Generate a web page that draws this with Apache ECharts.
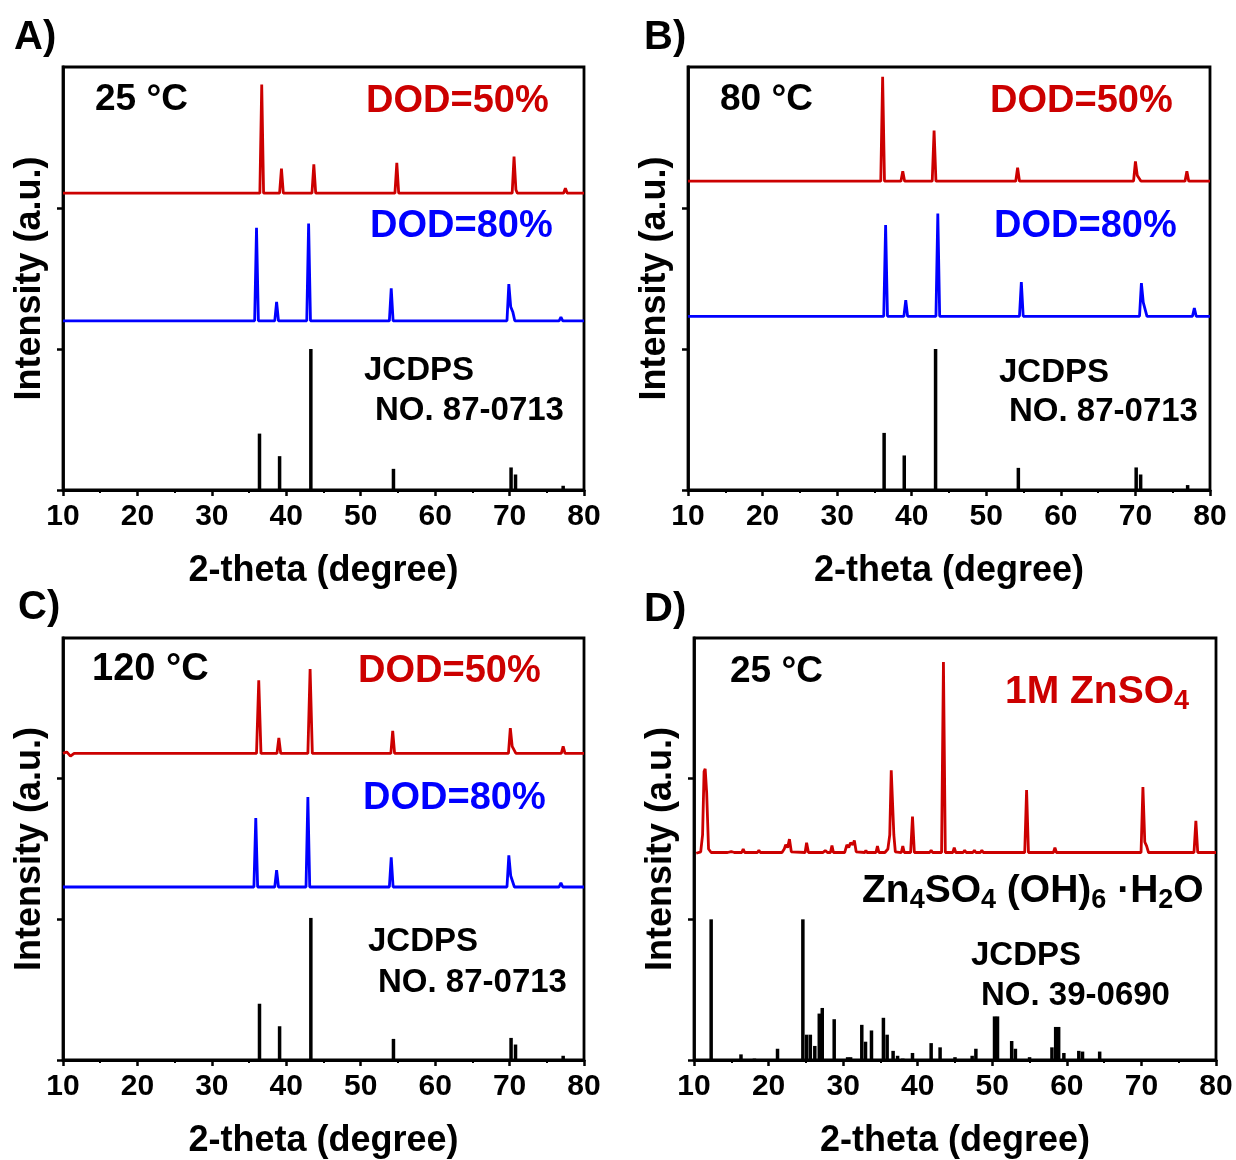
<!DOCTYPE html>
<html>
<head>
<meta charset="utf-8">
<script src="https://cdn.jsdelivr.net/npm/echarts@6/dist/echarts.min.js"></script>
<style>
html,body{margin:0;padding:0;background:#fff;}
#chart{width:1236px;height:1160px;}
</style>
</head>
<body>
<div id="chart"></div>
<script>
// ---------- data (2-theta, offset intensity) ----------
const xTickLabels = [10, 20, 30, 40, 50, 60, 70, 80];

// Panel A: 25 °C
const aRed = [[10,2.105],[16.3,2.105],[16.5,2.112],[16.7,2.105],[22.3,2.105],[22.5,2.112],[22.7,2.105],[30.3,2.105],[30.5,2.11],[30.7,2.105],
  [33.0,2.105],[33.2,2.115],[33.4,2.105],[33.8,2.105],[34,2.118],[34.2,2.105],
  [36.45,2.105],[36.7,2.875],[36.95,2.105],[39.1,2.105],[39.35,2.28],[39.6,2.105],[43.45,2.105],[43.7,2.31],[43.95,2.105],
  [54.6,2.105],[54.85,2.32],[55.1,2.105],[70.35,2.105],[70.6,2.365],[70.85,2.13],[71.05,2.105],[77.25,2.105],[77.5,2.14],[77.75,2.105],[80,2.105]];
const aBlue = [[10,1.2],[35.75,1.2],[36.0,1.86],[36.25,1.2],[38.45,1.2],[38.7,1.335],[38.95,1.2],[42.75,1.2],[43.0,1.89],[43.25,1.2],
  [53.85,1.2],[54.1,1.43],[54.35,1.2],[69.65,1.2],[69.9,1.46],[70.15,1.3],[70.45,1.26],[70.7,1.2],[76.65,1.2],[76.9,1.225],[77.15,1.2],[80,1.2]];
const aRef = [[36.4,0.40],[39.1,0.24],[43.3,1.0],[54.4,0.15],[70.2,0.16],[70.8,0.11],[77.2,0.03]];

// Panel B: 80 °C
const bRed = [[10,2.19],[35.85,2.19],[36.1,2.93],[36.35,2.19],[38.55,2.19],[38.8,2.26],[39.05,2.19],[42.75,2.19],[43.0,2.55],[43.25,2.19],
  [53.95,2.19],[54.2,2.285],[54.45,2.19],[69.75,2.19],[70.0,2.33],[70.25,2.23],[70.5,2.22],[70.75,2.19],[76.65,2.19],[76.9,2.26],[77.15,2.19],[80,2.19]];
const bBlue = [[10,1.232],[36.25,1.232],[36.5,1.88],[36.75,1.232],[38.95,1.232],[39.2,1.347],[39.45,1.232],[43.25,1.232],[43.5,1.96],[43.75,1.232],
  [54.45,1.232],[54.7,1.475],[54.95,1.232],[70.55,1.232],[70.8,1.467],[71.05,1.33],[71.3,1.32],[71.55,1.232],[77.65,1.232],[77.9,1.29],[78.15,1.232],[80,1.232]];
const bRef = [[36.3,0.405],[39.0,0.245],[43.2,1.0],[54.3,0.157],[70.1,0.16],[70.7,0.11],[77.0,0.035]];

// Panel C: 120 °C
const cRed = [[10,2.18],[10.5,2.19],[11,2.16],[11.5,2.18],[36.0,2.18],[36.3,2.70],[36.6,2.18],[38.75,2.18],[39.0,2.29],[39.25,2.18],
  [42.9,2.18],[43.2,2.78],[43.5,2.18],[54.05,2.18],[54.3,2.34],[54.55,2.18],[69.85,2.18],[70.1,2.36],[70.35,2.23],[70.6,2.22],[70.85,2.18],
  [76.95,2.18],[77.2,2.23],[77.45,2.18],[80,2.18]];
const cBlue = [[10,1.23],[35.65,1.23],[35.9,1.72],[36.15,1.23],[38.45,1.23],[38.7,1.35],[38.95,1.23],[42.65,1.23],[42.9,1.87],[43.15,1.23],
  [53.85,1.23],[54.1,1.44],[54.35,1.23],[69.65,1.23],[69.9,1.455],[70.15,1.31],[70.4,1.30],[70.65,1.23],[76.65,1.23],[76.9,1.26],[77.15,1.23],[80,1.23]];
const cRef = [[36.4,0.40],[39.1,0.24],[43.3,1.01],[54.4,0.15],[70.2,0.157],[70.8,0.11],[77.2,0.03]];

// Panel D: 25 °C, 1M ZnSO4
const dRed = [[10.3,1.47],[10.9,1.48],[11.15,1.6],[11.35,2.05],[11.5,2.07],[11.7,1.9],[11.95,1.5],[12.3,1.475],
  [14.5,1.475],[15.0,1.482],[15.4,1.475],[16.4,1.475],[16.6,1.5],[16.8,1.475],[18.5,1.475],[18.7,1.49],[18.9,1.475],
  [21.8,1.475],[22.1,1.5],[22.3,1.53],[22.55,1.51],[22.8,1.57],[23.05,1.48],[23.3,1.475],
  [24.9,1.475],[25.1,1.545],[25.35,1.475],[27.3,1.475],[27.6,1.49],[27.9,1.475],[28.3,1.475],[28.5,1.525],[28.7,1.475],
  [30.2,1.475],[30.5,1.53],[30.75,1.51],[31.0,1.545],[31.3,1.53],[31.5,1.56],[31.75,1.48],[32.0,1.475],
  [32.9,1.475],[33.05,1.49],[33.2,1.475],[34.4,1.475],[34.6,1.52],[34.8,1.475],[35.6,1.475],
  [36.0,1.5],[36.25,1.6],[36.45,2.06],[36.6,2.06],[36.8,1.6],[37.0,1.48],[37.8,1.475],[38.0,1.52],[38.2,1.475],
  [39.05,1.475],[39.3,1.73],[39.55,1.475],[41.6,1.475],[41.8,1.49],[42.0,1.475],[43.2,1.475],[43.45,2.83],[43.7,1.475],
  [44.7,1.475],[44.9,1.51],[45.1,1.475],[46.1,1.475],[46.3,1.49],[46.5,1.475],[47.4,1.475],[47.6,1.49],[47.8,1.475],[48.4,1.475],[48.6,1.49],[48.8,1.475],
  [54.35,1.475],[54.6,1.92],[54.85,1.475],[58.2,1.475],[58.4,1.51],[58.6,1.475],[61,1.475],[61.2,1.482],[61.4,1.475],
  [69.95,1.475],[70.2,1.94],[70.45,1.55],[70.7,1.52],[70.95,1.475],[77.05,1.475],[77.3,1.70],[77.55,1.475],[80,1.475]];
const dRef = [[12.3,1.0],[16.3,0.04],[18.1,0.01],[21.2,0.08],[24.6,1.0],[25.1,0.18],[25.6,0.18],[26.2,0.10],[26.8,0.33],[27.2,0.37],[28.8,0.29],
  [30.6,0.02],[31.0,0.02],[32.5,0.25],[33.0,0.13],[33.8,0.21],[35.4,0.30],[35.9,0.18],[36.7,0.065],[37.3,0.03],[38.0,0.01],[39.3,0.05],
  [41.8,0.12],[43.0,0.09],[45.0,0.02],[47.3,0.03],[47.8,0.08],[50.3,0.31],[50.7,0.31],[52.6,0.135],[53.1,0.08],[55.0,0.02],
  [58.0,0.09],[58.5,0.235],[58.9,0.235],[59.6,0.05],[61.6,0.065],[62.1,0.06],[64.4,0.06]];

// ---------- chart ----------
const FONT = 'Liberation Sans, Arial, Helvetica, sans-serif';
const RED = '#cc0000', BLUE = '#0000ff';

const grids = [
  {left: 63,  top: 67,  width: 521, height: 423},
  {left: 688, top: 67,  width: 522, height: 423},
  {left: 63,  top: 638, width: 521, height: 423},
  {left: 694, top: 638, width: 522, height: 423}
];

const option = {
  animation: false,
  backgroundColor: '#fff',
  grid: grids.map(g => Object.assign({show: true, borderColor: '#000', borderWidth: 2.8, backgroundColor: 'transparent'}, g)),
  xAxis: grids.map((g, i) => ({
    type: 'value', gridIndex: i, min: 10, max: 80, interval: 10,
    name: '2-theta (degree)', nameLocation: 'middle', nameGap: 63,
    nameTextStyle: {fontFamily: FONT, fontWeight: 'bold', fontSize: 36, color: '#000'},
    axisLine: {show: true, onZero: false, lineStyle: {color: '#000', width: 2.8}},
    axisTick: {show: true, inside: false, length: 6, lineStyle: {color: '#000', width: 2.5}},
    minorTick: {show: true, splitNumber: 2, length: 3, lineStyle: {color: '#000', width: 2}},
    axisLabel: {show: true, margin: 12, fontFamily: FONT, fontWeight: 'bold', fontSize: 30, color: '#000',
      formatter: v => xTickLabels.includes(v) ? String(v) : ''},
    splitLine: {show: false}
  })),
  yAxis: grids.map((g, i) => ({
    type: 'value', gridIndex: i, min: 0, max: 3, interval: 1,
    name: 'Intensity (a.u.)', nameLocation: 'middle', nameGap: 15, nameRotate: 90,
    nameTextStyle: {fontFamily: FONT, fontWeight: 'bold', fontSize: 36, color: '#000'},
    axisLine: {show: true, lineStyle: {color: '#000', width: 2.8}},
    axisTick: {show: true, inside: false, length: 6, customValues: [0, 1, 2], lineStyle: {color: '#000', width: 2.5}},
    axisLabel: {show: false},
    splitLine: {show: false}
  })),
  series: [],
  graphic: []
};

function lineSeries(idx, data, color) {
  return {type: 'line', xAxisIndex: idx, yAxisIndex: idx, data: data, showSymbol: false, symbol: 'none',
    lineStyle: {color: color, width: 2.8}, silent: true, z: 3};
}
function stickSeries(idx, data) {
  return {type: 'bar', xAxisIndex: idx, yAxisIndex: idx, data: data, barWidth: 3.5,
    itemStyle: {color: '#000'}, silent: true, z: 2};
}
option.series.push(
  lineSeries(0, aRed, RED), lineSeries(0, aBlue, BLUE), stickSeries(0, aRef),
  lineSeries(1, bRed, RED), lineSeries(1, bBlue, BLUE), stickSeries(1, bRef),
  lineSeries(2, cRed, RED), lineSeries(2, cBlue, BLUE), stickSeries(2, cRef),
  lineSeries(3, dRed, RED), stickSeries(3, dRef)
);

function txt(x, y, text, size, color, weight, align) {
  return {type: 'text', x: x, y: y, z: 100, silent: true,
    style: {text: text, fontFamily: FONT, fontSize: size, fontWeight: weight || 'bold', fill: color || '#000',
      align: align || 'left', verticalAlign: 'middle'}};
}
function richTxt(x, y, text, size, subSize, color) {
  return {type: 'text', x: x, y: y, z: 100, silent: true,
    style: {text: text, fontFamily: FONT, fontWeight: 'bold', fill: color, align: 'left', verticalAlign: 'middle',
      rich: {
        n: {fontFamily: FONT, fontSize: size, fontWeight: 'bold', fill: color, lineHeight: 46, verticalAlign: 'middle'},
        s: {fontFamily: FONT, fontSize: subSize, fontWeight: 'bold', fill: color, lineHeight: 26, verticalAlign: 'bottom'}
      }}};
}

option.graphic.push(
  // panel letters
  txt(14, 38, 'A)', 40), txt(644, 38, 'B)', 40), txt(18, 608, 'C)', 40), txt(644, 610, 'D)', 40),
  // A
  txt(95, 100, '25 °C', 37), txt(366, 102, 'DOD=50%', 38, RED), txt(370, 227, 'DOD=80%', 38, BLUE),
  txt(364, 371, 'JCDPS', 33), txt(375, 411, 'NO. 87-0713', 33),
  // B
  txt(720, 100, '80 °C', 37), txt(990, 102, 'DOD=50%', 38, RED), txt(994, 227, 'DOD=80%', 38, BLUE),
  txt(999, 373, 'JCDPS', 33), txt(1009, 412, 'NO. 87-0713', 33),
  // C
  txt(92, 670, '120 °C', 38), txt(358, 672, 'DOD=50%', 38, RED), txt(363, 799, 'DOD=80%', 38, BLUE),
  txt(368, 942, 'JCDPS', 33), txt(378, 983, 'NO. 87-0713', 33),
  // D
  txt(730, 672, '25 °C', 37),
  richTxt(1005, 692, '{n|1M ZnSO}{s|4}', 39, 27, RED),
  richTxt(862, 891, '{n|Zn}{s|4}{n|SO}{s|4}{n| (OH)}{s|6}{n| ·H}{s|2}{n|O}', 39, 27, '#000'),
  txt(971, 956, 'JCDPS', 33), txt(981, 996, 'NO. 39-0690', 33)
);

const chart = echarts.init(document.getElementById('chart'), null, {renderer: 'canvas'});
chart.setOption(option);
</script>
</body>
</html>
